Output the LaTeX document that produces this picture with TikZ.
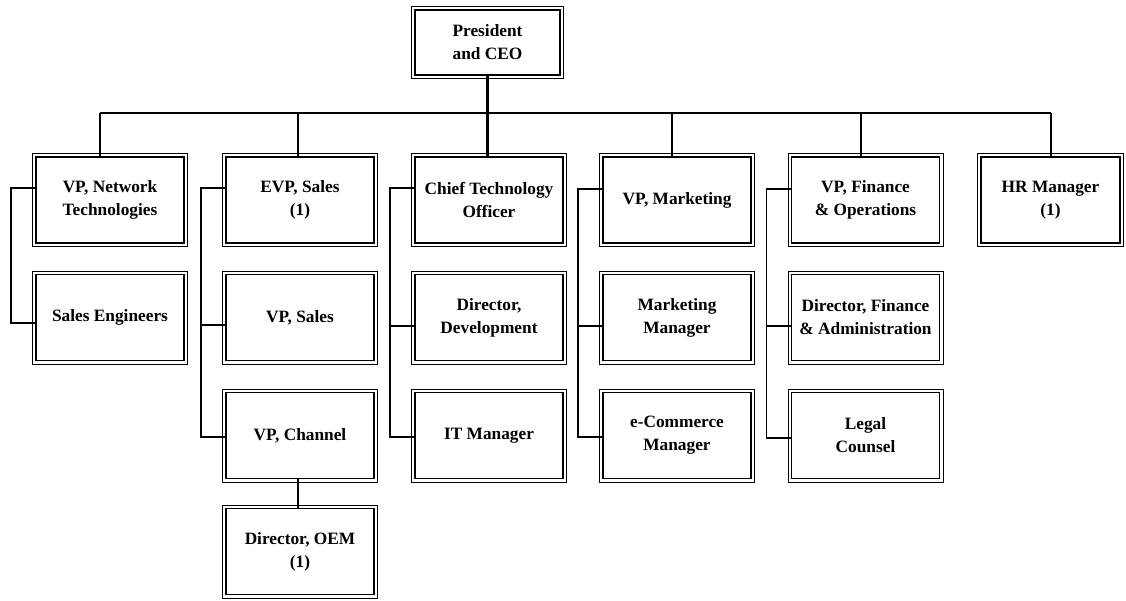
\documentclass[tikz,border=0pt]{standalone}
\usepackage{fontspec}
\setmainfont{Liberation Serif}
\begin{document}
\begin{tikzpicture}[x=1pt,y=-1pt,
  orgbox/.style={draw, line width=1.1pt, outer sep=0pt, inner sep=0pt,
    minimum width=148pt, minimum height=86pt, align=center,
    font=\fontsize{17.3}{23}\selectfont\bfseries},
  frame/.style={line width=0.7pt},
  bus/.style={line width=2pt},
  drop/.style={line width=2.2pt},
  bracket/.style={line width=1.2pt}]
\useasboundingbox (0,0) rectangle (1126,600);

% top of the chart
\node[orgbox, minimum width=145pt, minimum height=65pt] (ceo) at (487.5,42.5) {President\\and CEO};

% first row of direct reports
\node[orgbox] (net) at (110,200)   {VP, Network\\Technologies};
\node[orgbox] (evp) at (300,200)   {EVP, Sales\\(1)};
\node[orgbox] (cto) at (489,200)   {Chief Technology\\Officer};
\node[orgbox] (mkt) at (677,200)   {VP, Marketing};
\node[orgbox] (fin) at (865.5,200) {VP, Finance\\\& Operations};
\node[orgbox, minimum width=139pt] (hr) at (1050.5,200) {HR Manager\\(1)};

% second row
\node[orgbox] (se)   at (110,317.5)   {Sales Engineers};
\node[orgbox] (vps)  at (300,317.5)   {VP, Sales};
\node[orgbox] (dev)  at (489,317.5)   {Director,\\Development};
\node[orgbox] (mm)   at (677,317.5)   {Marketing\\Manager};
\node[orgbox] (dfa)  at (865.5,317.5) {Director, Finance\\\& Administration};

% third row
\node[orgbox] (vpch) at (300,435.5)   {VP, Channel};
\node[orgbox] (itm)  at (489,435.5)   {IT Manager};
\node[orgbox] (ecm)  at (677,435.5)   {e-Commerce\\Manager};
\node[orgbox] (legal) at (865.5,435.5) {Legal\\Counsel};

% fourth row
\node[orgbox] (oem) at (300,551.5) {Director, OEM\\(1)};

% outer line of the double frames
\foreach \n in {ceo,net,evp,cto,mkt,fin,hr,se,vps,dev,mm,dfa,vpch,itm,ecm,legal,oem}
  \draw[frame] ([shift={(-3.5pt,3.5pt)}]\n.north west) rectangle ([shift={(3.5pt,-3.5pt)}]\n.south east);

% bus from the president to the first row
\coordinate (busL) at (100,113);
\coordinate (busR) at (1051,113);
\coordinate (dEVP) at (298,113);
\coordinate (dMKT) at (672,113);
\coordinate (dFIN) at (861,113);
\draw[drop] (ceo.south) -- (ceo.south |- cto.north);
\draw[bus] (busL) -- (busR);
\draw[drop] (busL) -- (busL |- net.north);
\draw[drop] (dEVP) -- (dEVP |- evp.north);
\draw[drop] (dMKT) -- (dMKT |- mkt.north);
\draw[drop] (dFIN) -- (dFIN |- fin.north);
\draw[drop] (busR) -- (busR |- hr.north);

% side brackets linking each column
\draw[bracket] (net.west |- 0,188) -- ++(-25,0) |- (se.west |- 0,323);
\draw[bracket] (evp.west |- 0,188) -- ++(-25,0) |- (vpch.west |- 0,437);
\draw[bracket] (vps.west |- 0,325) -- ++(-25,0);
\draw[bracket] (cto.west |- 0,188) -- ++(-25,0) |- (itm.west |- 0,437);
\draw[bracket] (dev.west |- 0,326) -- ++(-25,0);
\draw[bracket] (mkt.west |- 0,189) -- ++(-25,0) |- (ecm.west |- 0,437);
\draw[bracket] (mm.west |- 0,326) -- ++(-25,0);
\draw[bracket] (fin.west |- 0,189) -- ++(-25,0) |- (legal.west |- 0,438);
\draw[bracket] (dfa.west |- 0,326) -- ++(-25,0);

% VP, Channel down to Director, OEM
\draw[drop] (vpch.south -| 298,0) -- (oem.north -| 298,0);
\end{tikzpicture}
\end{document}
